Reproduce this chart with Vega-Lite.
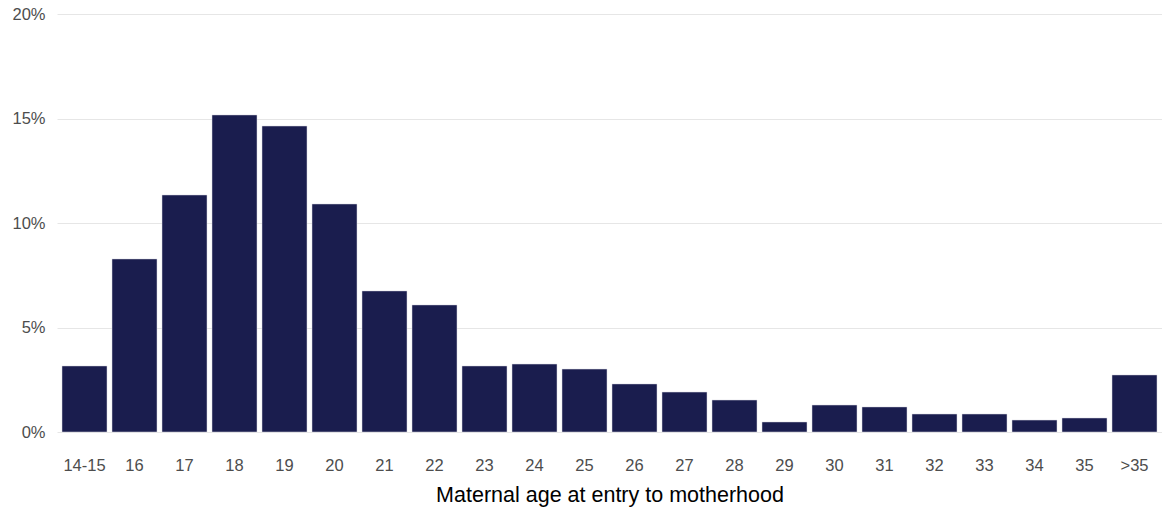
{
  "$schema": "https://vega.github.io/schema/vega-lite/v6.json",
  "autosize": {"type": "none"},
  "padding": {"left": 57, "top": 14, "right": 0, "bottom": 78},
  "width": 1105,
  "height": 418,
  "background": "white",
  "data": {"values": [
    {"age": "14-15", "pct": 3.16},
    {"age": "16", "pct": 8.28},
    {"age": "17", "pct": 11.34},
    {"age": "18", "pct": 15.17},
    {"age": "19", "pct": 14.64},
    {"age": "20", "pct": 10.91},
    {"age": "21", "pct": 6.75},
    {"age": "22", "pct": 6.08},
    {"age": "23", "pct": 3.16},
    {"age": "24", "pct": 3.25},
    {"age": "25", "pct": 3.01},
    {"age": "26", "pct": 2.30},
    {"age": "27", "pct": 1.91},
    {"age": "28", "pct": 1.53},
    {"age": "29", "pct": 0.48},
    {"age": "30", "pct": 1.29},
    {"age": "31", "pct": 1.20},
    {"age": "32", "pct": 0.86},
    {"age": "33", "pct": 0.86},
    {"age": "34", "pct": 0.57},
    {"age": "35", "pct": 0.67},
    {"age": ">35", "pct": 2.73}
  ]},
  "config": {
    "view": {"stroke": null},
    "font": "Liberation Sans"
  },
  "mark": {"type": "bar", "color": "#1a1d4e", "stroke": "#d8d9e3", "strokeWidth": 0.5},
  "encoding": {
    "x": {
      "field": "age", "type": "nominal", "sort": null,
      "scale": {"paddingInner": 0.1, "paddingOuter": 0.1},
      "axis": {
        "title": "Maternal age at entry to motherhood",
        "titleFont": "Liberation Sans", "titleFontSize": 21.5, "titleFontWeight": "normal", "titleColor": "#000000",
        "titlePadding": 11,
        "labelAngle": 0, "labelFontSize": 16.5, "labelColor": "#4d4d4d", "labelPadding": 25,
        "ticks": false, "domain": false, "grid": false
      }
    },
    "y": {
      "field": "pct", "type": "quantitative",
      "scale": {"domain": [0, 20], "nice": false},
      "axis": {
        "title": null, "values": [0, 5, 10, 15, 20],
        "labelExpr": "datum.value + '%'",
        "labelFontSize": 16.5, "labelColor": "#4d4d4d", "labelPadding": 12,
        "ticks": false, "domain": false,
        "grid": true, "gridColor": "#e6e6e6", "gridWidth": 1
      }
    }
  }
}
